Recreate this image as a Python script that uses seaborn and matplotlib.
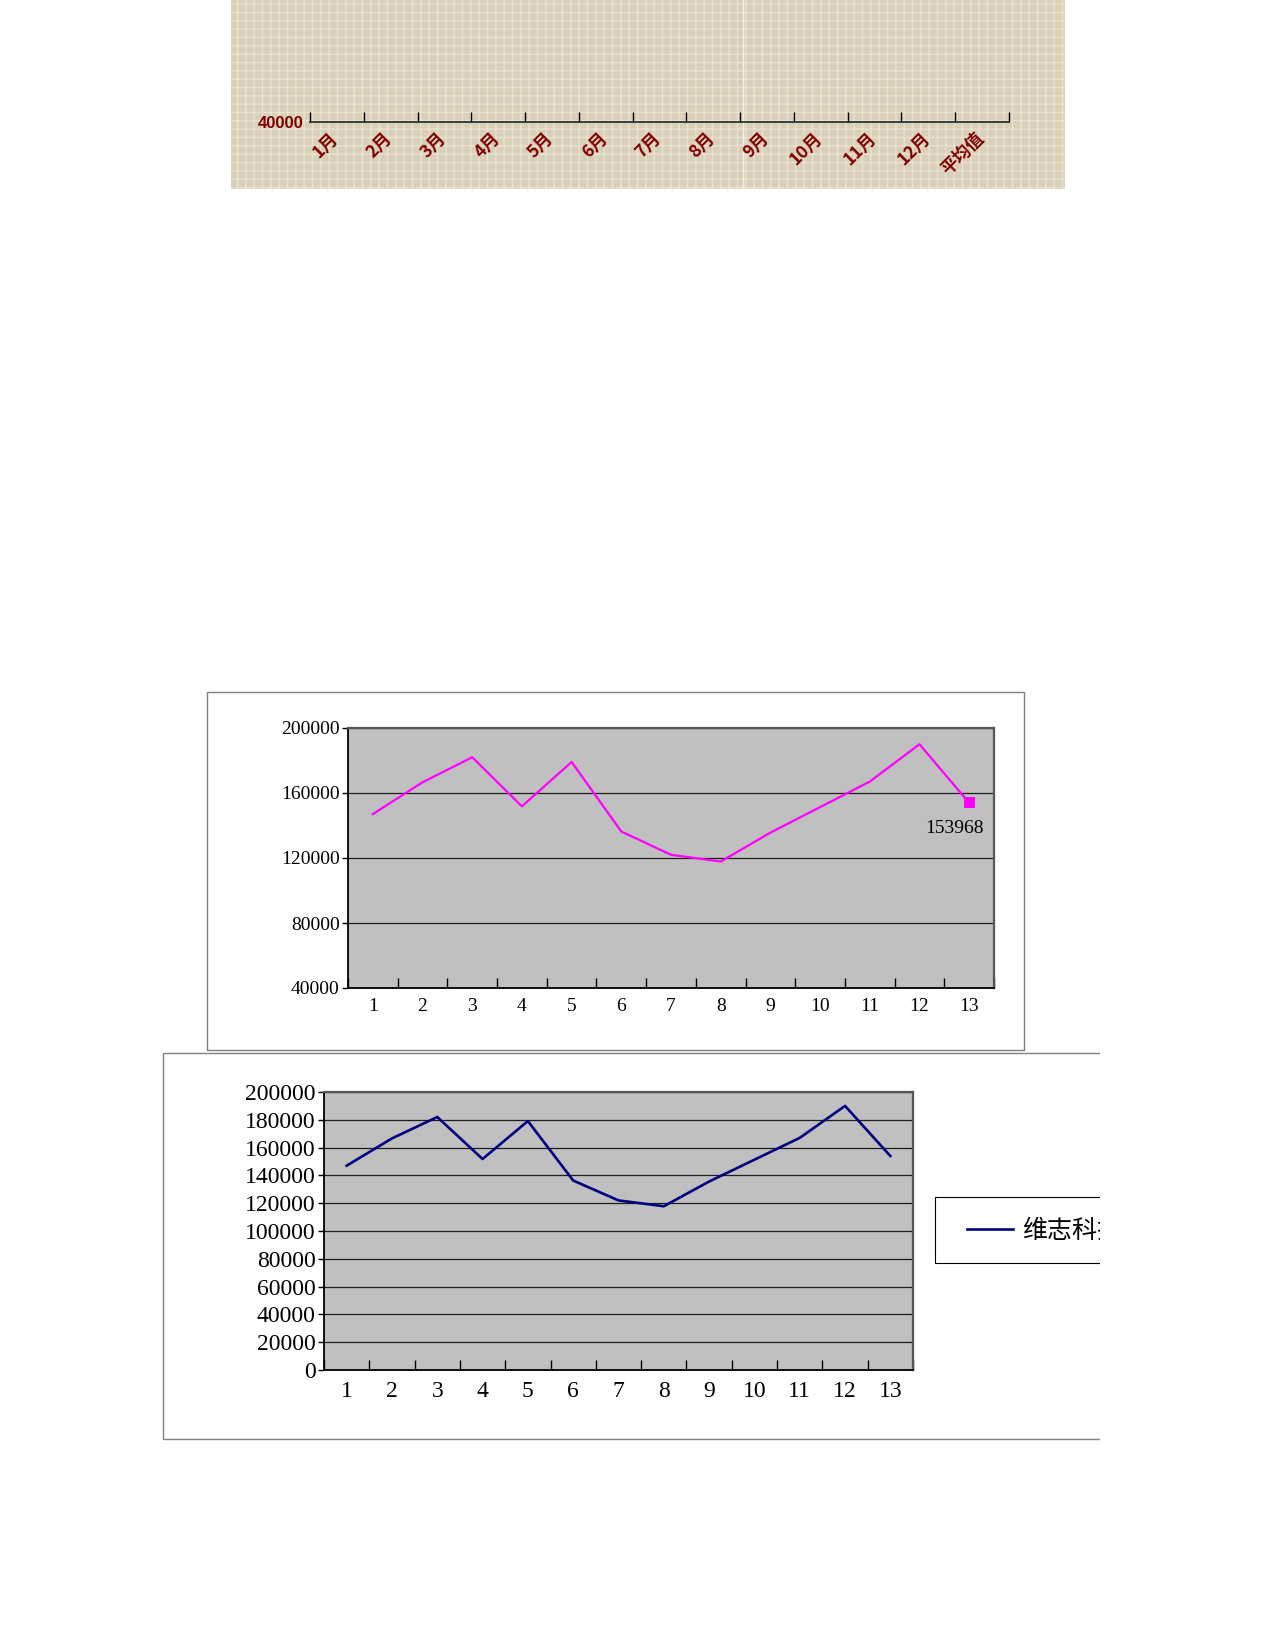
import matplotlib
matplotlib.use("Agg")
import matplotlib.pyplot as plt
from matplotlib.patches import Rectangle
import matplotlib.transforms as mtransforms
import numpy as np
import seaborn as sns

plt.rcParams["font.family"] = ["Liberation Serif", "Noto Sans CJK SC", "DejaVu Sans"]

# data
months = ["1月", "2月", "3月", "4月", "5月", "6月", "7月", "8月", "9月", "10月", "11月", "12月", "平均值"]
x_pos = list(range(1, 14))
sales = [147000, 166600, 182000, 151800, 179100, 136300, 122000, 117800, 135600, 151300, 167000, 190000, 153968]
avg_label = "153968"
series_name = "维志科技"
mid_yticks = [40000, 80000, 120000, 160000, 200000]
bot_yticks = list(range(0, 200001, 20000))

W, H = 1275, 1650
fig = plt.figure(figsize=(W / 100, H / 100), dpi=100)


def rect(x0, y0, x1, y1):
    return [x0 / W, 1 - y1 / H, (x1 - x0) / W, (y1 - y0) / H]


def frame(x0, y0, x1, y1, **kw):
    r = Rectangle((x0 / W, 1 - y1 / H), (x1 - x0) / W, (y1 - y0) / H,
                  transform=fig.transFigure, **kw)
    fig.add_artist(r)
    return r


def cat_axis(ax, labels, pad, size, **kw):
    ax.set_xlim(0.5, 13.5)
    ax.set_xticks(np.arange(0.5, 13.6, 1))
    ax.set_xticklabels([])
    ax.set_xticks(x_pos, minor=True)
    ax.set_xticklabels(labels, minor=True, fontsize=size, **kw)
    ax.tick_params(axis="x", which="major", direction="in", length=7, width=1, color="black")
    ax.tick_params(axis="x", which="minor", length=0, pad=pad)


# ---- top strip: bottom edge of a chart cut by the page ----
frame(231, 0, 1065, 189, facecolor="#D9D0BA", edgecolor="#E9E2D0", hatch="++", lw=0, zorder=-2)
fig.add_artist(plt.Line2D([743 / W, 743 / W], [1 - 189 / H, 1], transform=fig.transFigure,
                          color="#F4F0E6", lw=1, zorder=-1))
ax_top = fig.add_axes(rect(310, 122 - 420, 1009, 122))
ax_top.set_facecolor("none")
sns.lineplot(x=x_pos, y=sales, ax=ax_top, color="#800000", lw=1.5)
ax_top.set_ylim(40000, 200000)
ax_top.set_yticks([40000])
ax_top.set_yticklabels(["40000"], fontsize=12, fontweight="bold", color="#800000",
                       family=["Liberation Sans", "DejaVu Sans"])
ax_top.tick_params(axis="y", length=0, pad=5)
cat_axis(ax_top, months, pad=5, size=12.5, rotation=45, ha="right", color="#800000",
         fontweight="bold", family=["Noto Sans CJK SC", "DejaVu Sans"])
nudge = mtransforms.ScaledTranslation(5 / 100, 0, fig.dpi_scale_trans)
for lab in ax_top.get_xticklabels(minor=True):
    lab.set_transform(lab.get_transform() + nudge)
for s in ["left", "top", "right"]:
    ax_top.spines[s].set_visible(False)
ax_top.spines["bottom"].set_color("#222222")
ax_top.spines["bottom"].set_linewidth(1.2)
ax_top.set_xlabel("")
ax_top.set_ylabel("")


def grey_panel(ax, yticks, ylim, fsize, ypad, xpad):
    ax.set_facecolor("#C0C0C0")
    ax.set_ylim(*ylim)
    ax.set_yticks(yticks)
    ax.set_yticklabels([str(v) for v in yticks], fontsize=fsize)
    ax.tick_params(axis="y", direction="out", length=4, width=1, pad=ypad)
    cat_axis(ax, [str(i) for i in x_pos], pad=xpad, size=fsize)
    ax.yaxis.grid(True, color="#1E1E1E", lw=0.9)
    ax.set_axisbelow(True)
    for s in ["top", "right"]:
        ax.spines[s].set_color("#555555")
        ax.spines[s].set_linewidth(1.6)
    for s in ["left", "bottom"]:
        ax.spines[s].set_color("black")
        ax.spines[s].set_linewidth(1.3)
    ax.set_xlabel("")
    ax.set_ylabel("")


# ---- middle chart ----
frame(207, 692, 1024, 1050, facecolor="white", edgecolor="#808080", lw=1, zorder=-1)
ax_mid = fig.add_axes(rect(348, 728, 994, 988))
sns.lineplot(x=x_pos, y=sales, ax=ax_mid, color="#FF00FF", lw=1.6)
sns.scatterplot(x=[x_pos[-1]], y=[sales[-1]], ax=ax_mid, marker="s", s=62,
                color="#FF00FF", edgecolor="none", zorder=5)
ax_mid.annotate(avg_label, (x_pos[-1], sales[-1]), xytext=(-15, -26), textcoords="offset pixels",
                ha="center", va="center", fontsize=14)
grey_panel(ax_mid, mid_yticks, (40000, 200000), 14, ypad=2, xpad=7)

# ---- bottom chart ----
frame(163, 1053, 1200, 1439, facecolor="white", edgecolor="#808080", lw=1, zorder=-1)
ax_bot = fig.add_axes(rect(324, 1092, 913, 1370))
sns.lineplot(x=x_pos, y=sales, ax=ax_bot, color="#000080", lw=1.9, label=series_name)
grey_panel(ax_bot, bot_yticks, (0, 200000), 17, ypad=2, xpad=8)
frame(935, 1197, 1200, 1263, facecolor="white", edgecolor="black", lw=0.8, zorder=-0.5)
leg = ax_bot.legend(loc="center left", bbox_to_anchor=(967 / W, 1 - 1231 / H),
                    bbox_transform=fig.transFigure, frameon=False,
                    handlelength=1.85, handletextpad=0.35, borderpad=0, borderaxespad=0,
                    prop={"family": ["Noto Sans CJK SC", "DejaVu Sans"], "size": 18})

# page edge cuts the bottom chart and its legend
frame(1100, 1040, 1275, 1450, facecolor="white", edgecolor="none", lw=0, zorder=100)

fig.savefig("out.png", dpi=100, facecolor="white")
